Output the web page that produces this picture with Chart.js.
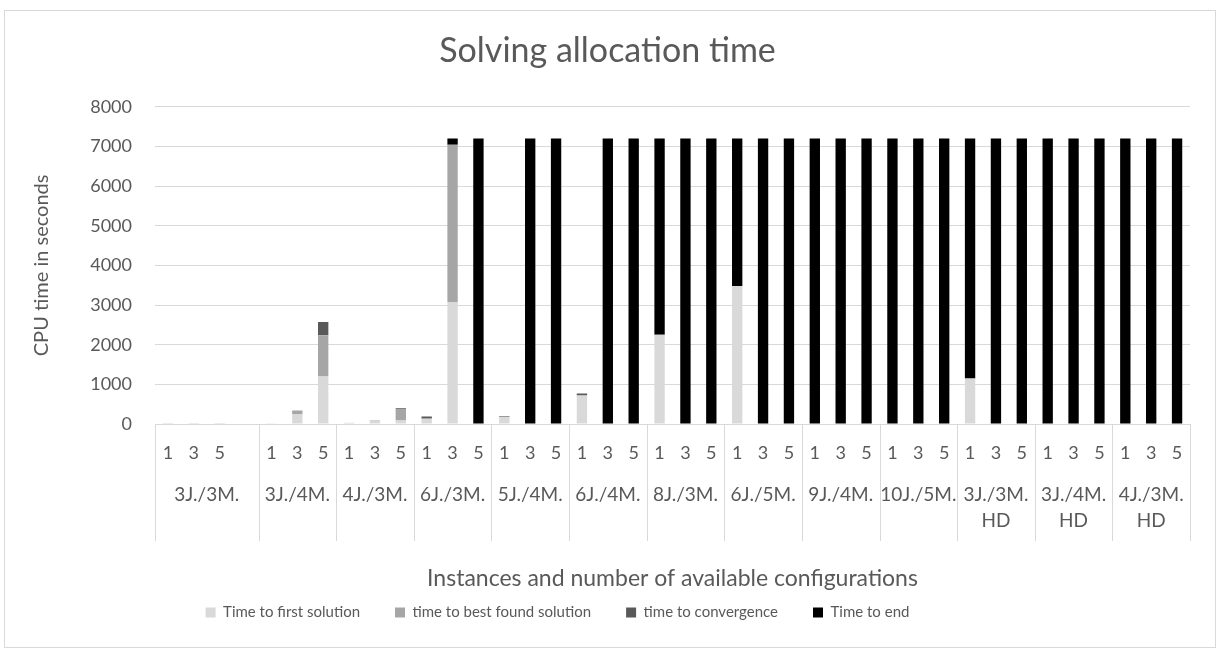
<!DOCTYPE html>
<html>
<head>
<meta charset="utf-8">
<script src="https://cdn.jsdelivr.net/npm/chart.js@4"></script>
<style>
  body { margin: 0; background: #fff; }
  .box { position: absolute; left: 4px; top: 10px; width: 1212px; height: 638px; border: 1px solid #d9d9d9; box-sizing: border-box; }
  canvas { display: block; }
</style>
</head>
<body>
<div class="box"><canvas id="myChart" width="1210" height="636"></canvas></div>
<script>
// tick labels per bar slot (first group has an extra empty slot)
const slotLabels = ['1', '3', '5', '',
  '1', '3', '5', '1', '3', '5', '1', '3', '5', '1', '3', '5', '1', '3', '5', '1', '3', '5',
  '1', '3', '5', '1', '3', '5', '1', '3', '5', '1', '3', '5', '1', '3', '5', '1', '3', '5'];

// instance groups and how many slots each one spans
const groupNames = [['3J./3M.'], ['3J./4M.'], ['4J./3M.'], ['6J./3M.'], ['5J./4M.'], ['6J./4M.'],
  ['8J./3M.'], ['6J./5M.'], ['9J./4M.'], ['10J./5M.'], ['3J./3M.', 'HD'], ['3J./4M.', 'HD'], ['4J./3M.', 'HD']];
const groupSizes = [4, 3, 3, 3, 3, 3, 3, 3, 3, 3, 3, 3, 3];

// series values in seconds (stacked)
const firstSolution = [1, 1, 1, null,
  5, 250, 1200,   30, 85, 90,   125, 3080, 0,   180, 0, 0,   720, 0, 0,
  2250, 0, 0,   3480, 0, 0,   0, 0, 0,   0, 0, 0,   1150, 0, 0,   0, 0, 0,   0, 0, 0];
const bestSolution = [0, 0, 0, null,
  0, 90, 1040,   0, 10, 290,   15, 3960, 0,   0, 0, 0,   0, 0, 0,
  0, 0, 0,   0, 0, 0,   0, 0, 0,   0, 0, 0,   0, 0, 0,   0, 0, 0,   0, 0, 0];
const convergence = [0, 0, 0, null,
  0, 0, 330,   0, 0, 20,   50, 0, 0,   20, 0, 0,   50, 0, 0,
  0, 0, 0,   0, 0, 0,   0, 0, 0,   0, 0, 0,   0, 0, 0,   0, 0, 0,   0, 0, 0];
const timeToEnd = [0, 0, 0, null,
  0, 0, 0,   0, 0, 0,   0, 160, 7200,   0, 7200, 7200,   0, 7200, 7200,
  4950, 7200, 7200,   3720, 7200, 7200,   7200, 7200, 7200,   7200, 7200, 7200,
  6050, 7200, 7200,   7200, 7200, 7200,   7200, 7200, 7200];

const yTicks = [0, 1000, 2000, 3000, 4000, 5000, 6000, 7000, 8000];

const FONT = 'Lato';
const TEXT = '#595959';
const LINE = '#d9d9d9';

// draws the group separators and group names under the x axis
const groupAxis = {
  id: 'groupAxis',
  afterLayout(chart) {
    // legend sits a bit left of centre in the original
    chart.legend.left -= 50;
    chart.legend.right -= 50;
  },
  afterDraw(chart) {
    const x = chart.scales.x;
    const ctx = chart.ctx;
    const half = (x.getPixelForValue(1) - x.getPixelForValue(0)) / 2;
    ctx.save();
    ctx.strokeStyle = LINE;
    ctx.lineWidth = 1;
    ctx.fillStyle = TEXT;
    ctx.font = '19px ' + FONT;
    ctx.textAlign = 'center';
    ctx.textBaseline = 'middle';
    let start = 0;
    for (let g = 0; g <= groupNames.length; g++) {
      const px = Math.round(x.getPixelForValue(start) - half) + 0.5;
      ctx.beginPath();
      ctx.moveTo(px, x.top);
      ctx.lineTo(px, x.top + 117);
      ctx.stroke();
      if (g < groupNames.length) {
        const end = start + groupSizes[g] - 1;
        const cx = (x.getPixelForValue(start) + x.getPixelForValue(end)) / 2;
        groupNames[g].forEach((t, i) => ctx.fillText(t, cx, x.top + 71 + i * 26));
        start += groupSizes[g];
      }
    }
    ctx.restore();
  }
};

const ctx1 = document.getElementById('myChart');

new Chart(ctx1, {
  type: 'bar',
  data: {
    labels: slotLabels,
    datasets: [
      { label: 'Time to first solution', data: firstSolution, backgroundColor: '#d9d9d9' },
      { label: 'time to best found solution', data: bestSolution, backgroundColor: '#a6a6a6' },
      { label: 'time to convergence', data: convergence, backgroundColor: '#595959' },
      { label: 'Time to end', data: timeToEnd, backgroundColor: '#000000' }
    ]
  },
  options: {
    responsive: false,
    animation: false,
    datasets: { bar: { barPercentage: 0.4, categoryPercentage: 1 } },
    layout: { padding: { left: 20, right: 25, top: 0, bottom: 17 } },
    plugins: {
      title: {
        display: true,
        text: 'Solving allocation time',
        color: TEXT,
        font: { family: FONT, size: 34, weight: 'normal' },
        padding: { top: 20, bottom: 35 }
      },
      legend: {
        position: 'bottom',
        maxHeight: 78,
        labels: {
          color: TEXT,
          font: { family: FONT, size: 15 },
          boxWidth: 10,
          boxHeight: 10,
          padding: 35
        }
      },
      tooltip: { enabled: false }
    },
    scales: {
      x: {
        stacked: true,
        grid: { display: false, drawTicks: false },
        border: { display: true, color: LINE },
        ticks: {
          color: TEXT,
          font: { family: FONT, size: 18 },
          autoSkip: false,
          maxRotation: 0,
          minRotation: 0,
          padding: 18
        },
        title: {
          display: true,
          text: 'Instances and number of available configurations',
          color: TEXT,
          font: { family: FONT, size: 23 },
          padding: { top: 0, bottom: -22 }
        },
        afterFit: (scale) => { scale.height = 146; }
      },
      y: {
        stacked: true,
        min: 0,
        max: 8000,
        afterBuildTicks: (scale) => { scale.ticks = yTicks.map(v => ({ value: v })); },
        grid: { color: LINE, drawTicks: false },
        border: { display: false },
        ticks: {
          color: TEXT,
          font: { family: FONT, size: 18 },
          padding: 23,
          callback: (v) => String(v)
        },
        title: {
          display: true,
          text: 'CPU time in seconds',
          color: TEXT,
          font: { family: FONT, size: 20 },
          padding: { top: 5, bottom: 0 }
        },
        afterFit: (scale) => { scale.width = 130; }
      }
    }
  },
  plugins: [groupAxis]
});
</script>
</body>
</html>
